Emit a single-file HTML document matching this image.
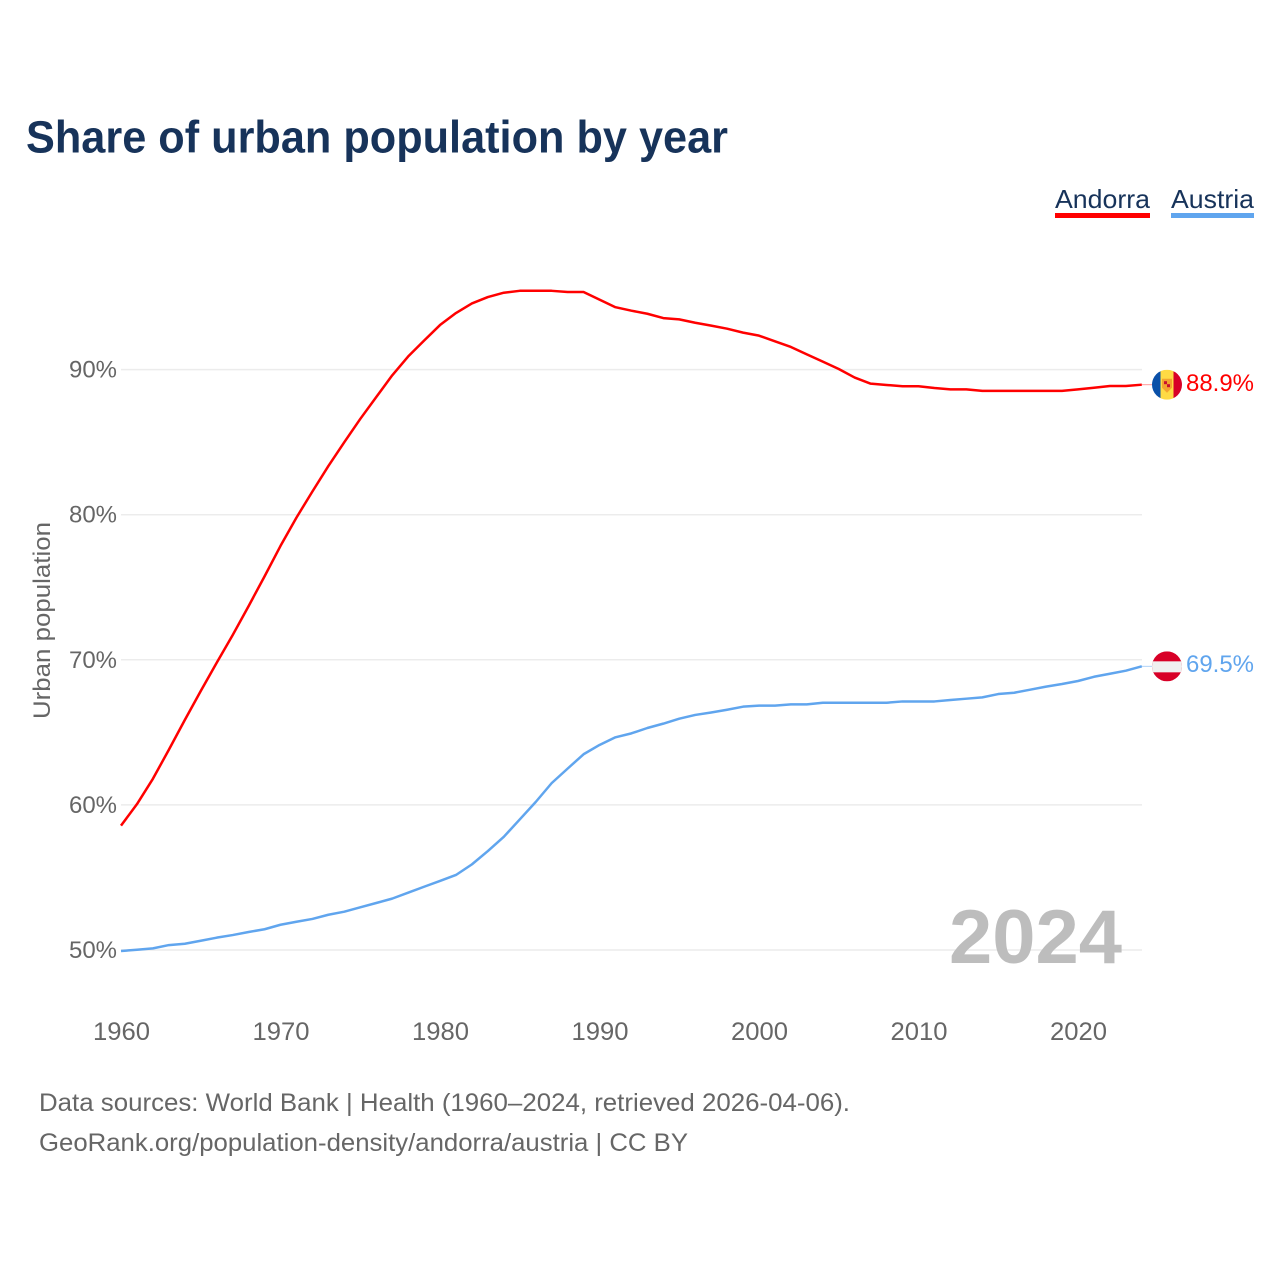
<!DOCTYPE html>
<html lang="en">
<head>
<meta charset="utf-8">
<title>Share of urban population by year</title>
<style>
html,body{margin:0;padding:0;background:#fff;width:1280px;height:1280px;overflow:hidden}
svg{display:block;font-family:"Liberation Sans",sans-serif}
</style>
</head>
<body>
<svg id="chart" xmlns="http://www.w3.org/2000/svg" width="1280" height="1280" viewBox="0 0 1280 1280">
  <rect x="0" y="0" width="1280" height="1280" fill="#fff"/>
  <defs>
    <clipPath id="flag-clip"><circle cx="0" cy="0" r="15"/></clipPath>
  </defs>
  <text x="26" y="152.5" font-size="45" font-weight="700" fill="#17335a" textLength="702" lengthAdjust="spacingAndGlyphs">Share of urban population by year</text>

  <g>
    <g>
      <text x="1055" y="208" font-size="26" fill="#17335a" textLength="95" lengthAdjust="spacingAndGlyphs">Andorra</text>
      <rect x="1055" y="213" width="95" height="5" fill="#ff0000"/>
    </g>
    <g>
      <text x="1171" y="208" font-size="26" fill="#17335a" textLength="83" lengthAdjust="spacingAndGlyphs">Austria</text>
      <rect x="1171" y="213" width="83" height="5" fill="#60a5ee"/>
    </g>
  </g>

  <g id="grid"></g>
  <text x="949" y="963" font-size="76" font-weight="700" fill="#bdbdbd" textLength="173" lengthAdjust="spacingAndGlyphs">2024</text>
  <g id="y-axis"></g>
  <g id="x-axis"></g>
  <text transform="translate(50,719) rotate(-90)" x="0" y="0" font-size="24" fill="#666" textLength="197" lengthAdjust="spacingAndGlyphs">Urban population</text>
  <g id="series"></g>

  <g id="flag-andorra">
    <g clip-path="url(#flag-clip)">
      <rect x="-15" y="-15" width="8.5" height="30" fill="#0a50a8"/>
      <rect x="-6.5" y="-15" width="13" height="30" fill="#ffda44"/>
      <rect x="6.5" y="-15" width="8.5" height="30" fill="#d80027"/>
      <path d="M-5,-6 H5 V3 L0,8 L-5,3 Z" fill="#f4a32e"/>
      <rect x="-3" y="-3.5" width="3" height="3" fill="#c8102e"/>
      <rect x="0" y="-0.5" width="3" height="3" fill="#c8102e"/>
    </g>
    <text x="19" y="6.5" font-size="24" fill="#ff0000" textLength="68" lengthAdjust="spacingAndGlyphs">88.9%</text>
  </g>
  <g id="flag-austria">
    <g clip-path="url(#flag-clip)">
      <rect x="-15" y="-15" width="30" height="30" fill="#d80027"/>
      <rect x="-15" y="-5" width="30" height="11" fill="#f0f0f0"/>
    </g>
    <text x="19" y="5.5" font-size="24" fill="#60a5ee" textLength="68" lengthAdjust="spacingAndGlyphs">69.5%</text>
  </g>

  <text x="39" y="1111" font-size="25" fill="#666" textLength="811" lengthAdjust="spacingAndGlyphs">Data sources: World Bank | Health (1960–2024, retrieved 2026-04-06).</text>
  <text x="39" y="1151" font-size="25" fill="#666" textLength="649" lengthAdjust="spacingAndGlyphs">GeoRank.org/population-density/andorra/austria | CC BY</text>
</svg>
<script>
const firstYear = 1960;
const yTicks = [50, 60, 70, 80, 90];
const yTickLabels = ["50%", "60%", "70%", "80%", "90%"];
const xTicks = [1960, 1970, 1980, 1990, 2000, 2010, 2020];
const xTickLabels = ["1960", "1970", "1980", "1990", "2000", "2010", "2020"];
const andorraValues = [
  58.57, 60.05, 61.8, 63.8, 65.85, 67.85, 69.8, 71.7, 73.7, 75.75,
  77.85, 79.8, 81.6, 83.35, 85.0, 86.6, 88.1, 89.6, 90.9, 92.0,
  93.07, 93.9, 94.56, 95.0, 95.3, 95.43, 95.43, 95.43, 95.35, 95.35,
  94.82, 94.3, 94.06, 93.85, 93.55, 93.46, 93.23, 93.03, 92.82, 92.55,
  92.34, 91.95, 91.56, 91.05, 90.55, 90.04, 89.45, 89.03, 88.94, 88.85,
  88.85, 88.73, 88.64, 88.64, 88.53, 88.53, 88.53, 88.53, 88.53, 88.53,
  88.64, 88.75, 88.87, 88.87, 88.96
];
const austriaValues = [
  49.93, 50.02, 50.11, 50.34, 50.43, 50.64, 50.85, 51.03, 51.24, 51.43,
  51.74, 51.95, 52.14, 52.43, 52.64, 52.94, 53.24, 53.54, 53.95, 54.36,
  54.76, 55.17, 55.9, 56.82, 57.8, 59.0, 60.2, 61.5, 62.5, 63.49,
  64.13, 64.66, 64.93, 65.3, 65.6, 65.94, 66.2, 66.37, 66.56, 66.77,
  66.84, 66.84, 66.93, 66.93, 67.04, 67.04, 67.04, 67.04, 67.04, 67.13,
  67.13, 67.13, 67.23, 67.32, 67.41, 67.64, 67.73, 67.94, 68.15, 68.33,
  68.54, 68.83, 69.04, 69.25, 69.55
];

const NS = "http://www.w3.org/2000/svg";
const xScale = year => 121 + (year - firstYear) * 15.95;
const yScale = value => 950 - (value - 50) * 14.51;

function make(tag, parent, attrs) {
  const el = document.createElementNS(NS, tag);
  for (const k in attrs) el.setAttribute(k, attrs[k]);
  parent.appendChild(el);
  return el;
}

const gridGroup = document.getElementById("grid");
const yAxisGroup = document.getElementById("y-axis");
yTicks.forEach((tick, i) => {
  const line = make("line", gridGroup, {x1: 121, x2: 1142, y1: yScale(tick), y2: yScale(tick), stroke: "#ececec", "stroke-width": 1.5});
  
  
  const label = make("text", yAxisGroup, {x: 69, y: yScale(tick) + 8, "font-size": 24, fill: "#666", textLength: 48, lengthAdjust: "spacingAndGlyphs"});
  
  
  label.textContent = yTickLabels[i];
});

const xAxisGroup = document.getElementById("x-axis");
xTicks.forEach((tick, i) => {
  const label = make("text", xAxisGroup, {x: xScale(tick) - 28, y: 1040, "font-size": 25, fill: "#666", textLength: 57, lengthAdjust: "spacingAndGlyphs"});
  
  
  label.textContent = xTickLabels[i];
});

function linePath(values) {
  return values.map((v, i) => (i ? "L" : "M") + xScale(firstYear + i).toFixed(2) + "," + yScale(v).toFixed(2)).join(" ");
}

const seriesGroup = document.getElementById("series");

const austriaLeader = make("line", seriesGroup, {x1: xScale(firstYear + austriaValues.length - 1), x2: 1152, y1: yScale(austriaValues[austriaValues.length - 1]), y2: yScale(austriaValues[austriaValues.length - 1]), stroke: "#60a5ee", "stroke-width": 1, opacity: 0.5});



const andorraLeader = make("line", seriesGroup, {x1: xScale(firstYear + andorraValues.length - 1), x2: 1152, y1: yScale(andorraValues[andorraValues.length - 1]), y2: yScale(andorraValues[andorraValues.length - 1]), stroke: "#ff0000", "stroke-width": 1, opacity: 0.4});



const austriaLine = make("path", seriesGroup, {d: linePath(austriaValues), fill: "none", stroke: "#60a5ee", "stroke-width": 2.5, "stroke-linejoin": "round"});



const andorraLine = make("path", seriesGroup, {d: linePath(andorraValues), fill: "none", stroke: "#ff0000", "stroke-width": 2.5, "stroke-linejoin": "round"});



document.getElementById("flag-andorra").setAttribute("transform", "translate(1167," + yScale(andorraValues[andorraValues.length - 1]).toFixed(2) + ")");
document.getElementById("flag-austria").setAttribute("transform", "translate(1167," + yScale(austriaValues[austriaValues.length - 1]).toFixed(2) + ")");
</script>
</body>
</html>
